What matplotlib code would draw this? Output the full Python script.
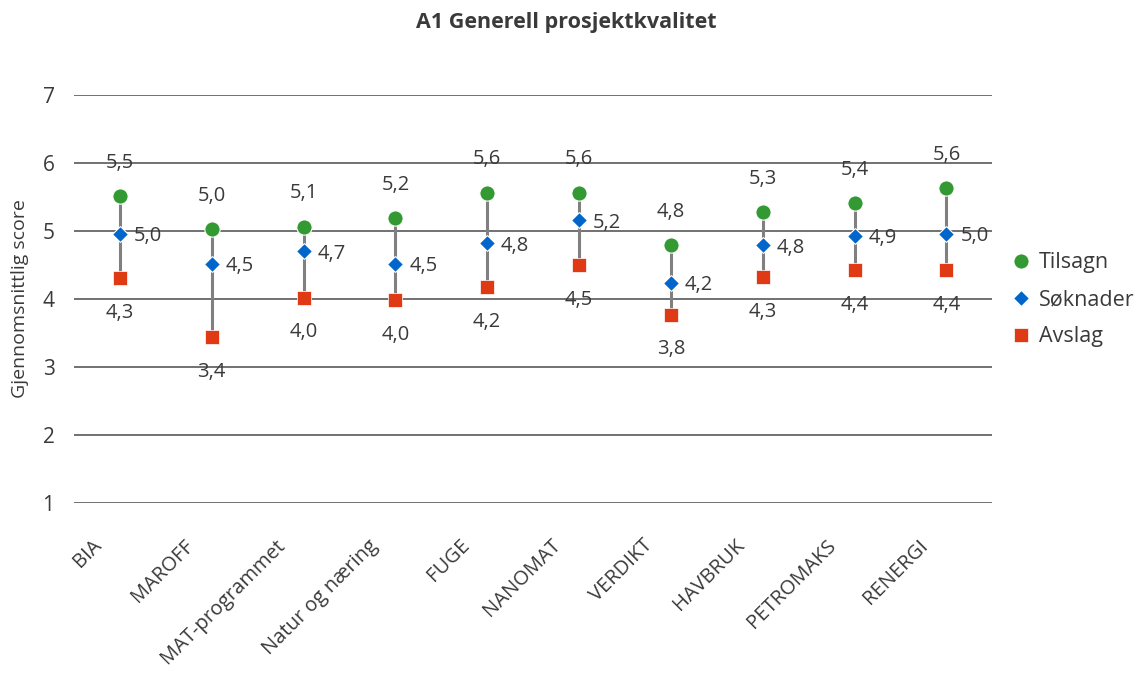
import matplotlib
matplotlib.use("Agg")
import matplotlib.pyplot as plt
from matplotlib.lines import Line2D
import matplotlib.transforms as mtransforms
import numpy as np

categories = ["BIA", "MAROFF", "MAT-programmet", "Natur og næring", "FUGE",
              "NANOMAT", "VERDIKT", "HAVBRUK", "PETROMAKS", "RENERGI"]
tilsagn = [5.51, 5.02, 5.06, 5.19, 5.56, 5.56, 4.79, 5.27, 5.41, 5.63]
soknader = [4.96, 4.52, 4.70, 4.52, 4.82, 5.16, 4.24, 4.79, 4.93, 4.96]
avslag = [4.31, 3.44, 4.02, 3.98, 4.17, 4.50, 3.77, 4.32, 4.42, 4.42]
yticks = [1, 2, 3, 4, 5, 6, 7]

FONT = ["Open Sans", "DejaVu Sans"]
plt.rcParams["font.family"] = FONT
TXT = "#3a3a3a"

GREEN = "#339933"
BLUE = "#0066CC"
RED = "#E03A14"

fig = plt.figure(figsize=(11.38, 6.77), dpi=100)
ax = fig.add_axes([0.065, 0.257, 0.807, 0.603])

x = np.arange(len(categories))
lo = np.minimum(np.minimum(tilsagn, soknader), avslag)
hi = np.maximum(np.maximum(tilsagn, soknader), avslag)
ax.vlines(x, lo, hi, color="#808080", lw=2.2, zorder=2)

ax.plot(x, tilsagn, ls="none", marker="o", ms=11, color=GREEN, mec="white", mew=0.8, zorder=3)
ax.plot(x, soknader, ls="none", marker="D", ms=8, color=BLUE, mec="white", mew=0.8, zorder=3)
ax.plot(x, avslag, ls="none", marker="s", ms=10.5, color=RED, mec="white", mew=0.5, zorder=3)

def fmt(v):
    return f"{v:.1f}".replace(".", ",")

LBL = 14.5
for xi, t, s, a in zip(x, tilsagn, soknader, avslag):
    ax.annotate(fmt(t), (xi, t), xytext=(0, 24), textcoords="offset points",
                ha="center", va="center", fontsize=LBL, color=TXT)
    ax.annotate(fmt(s), (xi, s), xytext=(10, -2), textcoords="offset points",
                ha="left", va="center", fontsize=LBL, color=TXT)
    ax.annotate(fmt(a), (xi, a), xytext=(0, -25), textcoords="offset points",
                ha="center", va="center", fontsize=LBL, color=TXT)

ax.set_xlim(-0.5, len(categories) - 0.5)
ax.set_ylim(1, 7)
ax.set_yticks(yticks)
ax.set_yticklabels([str(v) for v in yticks], fontsize=15, color=TXT)
ax.yaxis.grid(True, color="#595959", lw=1.2)
ax.set_axisbelow(True)
for sp in ax.spines.values():
    sp.set_visible(False)
ax.tick_params(axis="both", length=0)
ax.tick_params(axis="y", pad=14)

ax.set_xticks(x)
ax.set_xticklabels(categories, rotation=45, ha="right", va="center",
                   rotation_mode="anchor", fontsize=14.5, color=TXT)
ax.tick_params(axis="x", pad=28.5)
offset = mtransforms.ScaledTranslation(-21 / 100, 0, fig.dpi_scale_trans)
for lbl in ax.get_xticklabels():
    lbl.set_transform(lbl.get_transform() + offset)

ax.set_ylabel("Gjennomsnittlig score", fontsize=14, color=TXT, labelpad=10)

fig.text(0.498, 0.967, "A1 Generell prosjektkvalitet", ha="center", va="center",
         fontsize=15.5, fontweight="bold", color=TXT)

handles = [
    Line2D([], [], ls="none", marker="o", ms=11, color=GREEN, mec="white", mew=0.8),
    Line2D([], [], ls="none", marker="D", ms=8, color=BLUE, mec="white", mew=0.8),
    Line2D([], [], ls="none", marker="s", ms=10.5, color=RED, mec="white", mew=0.5),
]
fig.legend(handles, ["Tilsagn", "Søknader", "Avslag"], loc="center left",
           bbox_to_anchor=(0.873, 0.557), frameon=False, fontsize=15.5,
           handlelength=0.8, handletextpad=0.4, labelspacing=0.74,
           labelcolor=TXT)

fig.savefig("out.png", dpi=100)
